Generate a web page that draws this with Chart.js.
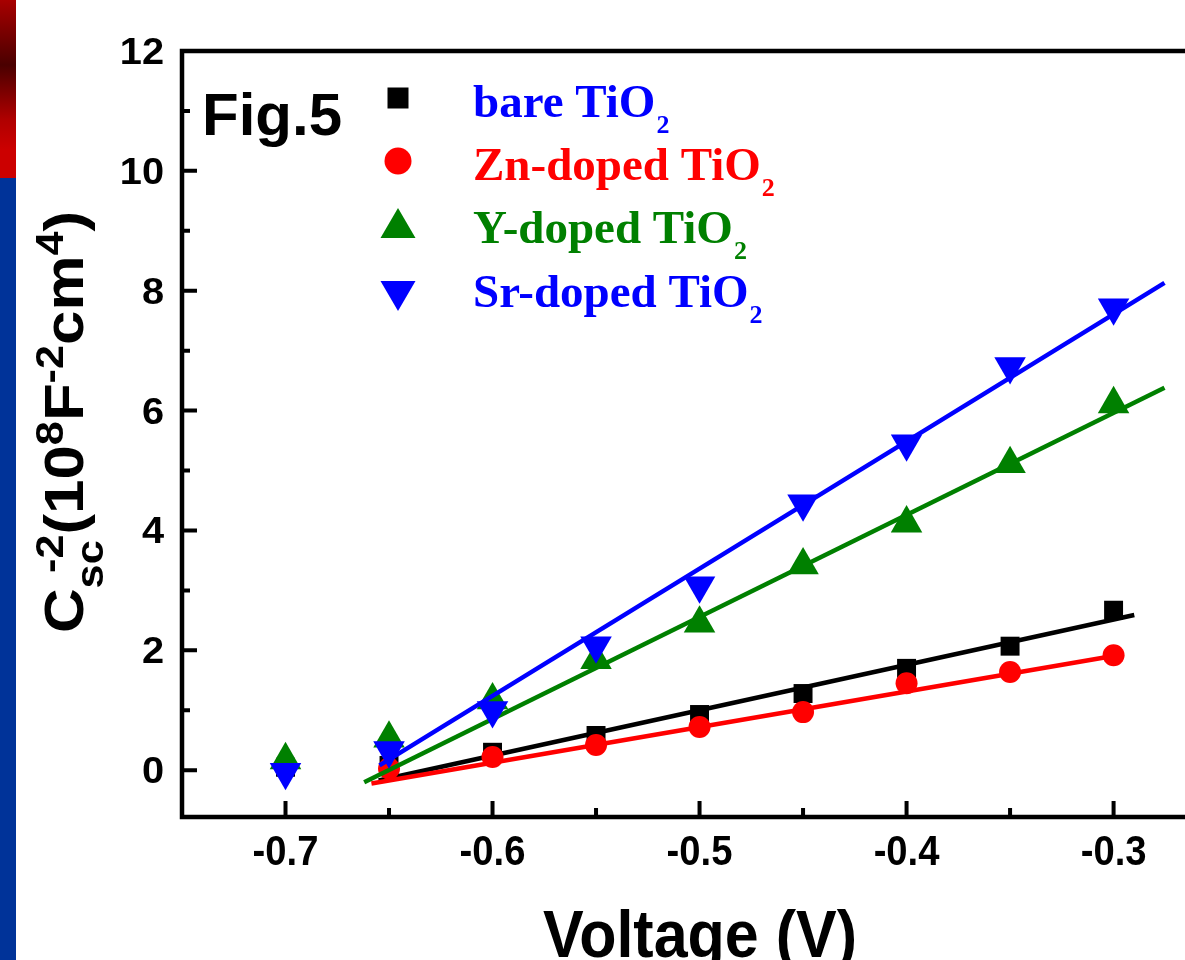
<!DOCTYPE html>
<html>
<head>
<meta charset="utf-8">
<script src="https://cdn.jsdelivr.net/npm/chart.js@4"></script>
<style>
  html, body { margin: 0; padding: 0; background: #fff; overflow: hidden; }
  #wrap { position: relative; width: 1185px; height: 960px; }
  #strip {
    position: absolute; left: 0; top: 0; width: 16px; height: 960px;
    background: linear-gradient(to bottom, #a80000 0px, #4a0000 65px, #b00000 120px, #cc0000 150px, #cc0000 178px, #003399 178px, #003399 960px);
  }
  canvas { position: absolute; left: 0; top: 0; }
</style>
</head>
<body>
<div id="wrap">
  <div id="strip"></div>
  <canvas id="mottSchottky" width="1185" height="960"></canvas>
</div>
<script>
// measured points (V vs 1/C^2, 10^8 F^-2 cm^4)
const voltage = [-0.70, -0.65, -0.60, -0.55, -0.50, -0.45, -0.40, -0.35, -0.30];
const bareTiO2 = [0.05, 0.08, 0.30, 0.58, 0.93, 1.28, 1.70, 2.07, 2.67];
const znTiO2   = [0.05, 0.03, 0.22, 0.42, 0.72, 0.97, 1.45, 1.64, 1.92];
const yTiO2    = [0.17, 0.53, 1.17, 1.84, 2.45, 3.42, 4.12, 5.11, 6.11];
const srTiO2   = [-0.03, 0.33, 1.00, 2.08, 3.08, 4.45, 5.45, 6.74, 7.72];

// linear fit segments (end points)
const fitBareV = [-0.655, -0.290], fitBareC = [-0.17, 2.59];
const fitZnV   = [-0.6585, -0.2995], fitZnC = [-0.22, 1.91];
const fitYV    = [-0.662, -0.2754], fitYC  = [-0.20, 6.38];
const fitSrV   = [-0.6546, -0.2754], fitSrC = [0.08, 8.13];

// axes
const xRange = [-0.75, -0.2655];
const yRange = [-0.78, 12];
const xTicks = [-0.7, -0.6, -0.5, -0.4, -0.3];
const xTickLabels = ['-0.7', '-0.6', '-0.5', '-0.4', '-0.3'];
const xMinor = [-0.65, -0.55, -0.45, -0.35];
const yTicks = [0, 2, 4, 6, 8, 10, 12];
const yMinor = [1, 3, 5, 7, 9, 11];

const seriesNames = ['bare TiO', 'Zn-doped TiO', 'Y-doped TiO', 'Sr-doped TiO'];
const textColors = ['#0000ff', '#ff0000', '#008000', '#0000ff'];
const markColors = ['#000000', '#ff0000', '#008000', '#0000ff'];

const SANS = '"Liberation Sans", Arial, sans-serif';
const SERIF = '"Liberation Serif", "Times New Roman", serif';

function pts(xs, ys) {
  return xs.map((x, i) => ({ x: x, y: ys[i] }));
}

function scatterSet(label, ys, color, style, radius, rot, order) {
  return {
    label: label, data: pts(voltage, ys), showLine: false,
    pointStyle: style, pointRadius: radius, pointRotation: rot,
    pointBackgroundColor: color, pointBorderColor: color, pointBorderWidth: 0,
    order: order
  };
}

function fitSet(xs, ys, color, order) {
  return {
    data: pts(xs, ys), showLine: true, borderColor: color, borderWidth: 4.5,
    pointRadius: 0, fill: false, order: order
  };
}

function txt(ctx, s, x, y, font, align, sx, sy, color) {
  ctx.save();
  ctx.translate(x, y);
  ctx.scale(sx, sy);
  ctx.font = font;
  ctx.fillStyle = color || '#000';
  ctx.textAlign = align;
  ctx.textBaseline = 'alphabetic';
  ctx.fillText(s, 0, 0);
  ctx.restore();
}

function marker(ctx, kind, x, y, color) {
  ctx.save();
  ctx.fillStyle = color;
  ctx.beginPath();
  if (kind === 'square') {
    ctx.rect(x - 10.5, y - 10.5, 21, 21);
  } else if (kind === 'circle') {
    ctx.arc(x, y, 13.5, 0, Math.PI * 2);
  } else if (kind === 'up') {
    ctx.moveTo(x, y - 20); ctx.lineTo(x + 17.5, y + 10); ctx.lineTo(x - 17.5, y + 10);
  } else {
    ctx.moveTo(x, y + 20); ctx.lineTo(x + 17.5, y - 10); ctx.lineTo(x - 17.5, y - 10);
  }
  ctx.closePath();
  ctx.fill();
  ctx.restore();
}

// y-axis title with sub/superscripts, drawn rotated
function yTitle(ctx, cx, cy) {
  const big = 'bold 60px ' + SANS, small = 'bold 42px ' + SANS;
  const up = -22;
  const segs = [
    { t: 'C', f: big, dy: 0 },
    { t: 'sc', f: small, dy: 22, sub: true },
    { t: '-2', f: small, dy: up, after: true },
    { t: '(10', f: big, dy: 0 },
    { t: '8', f: small, dy: up },
    { t: 'F', f: big, dy: 0 },
    { t: '-2', f: small, dy: up },
    { t: 'cm', f: big, dy: 0 },
    { t: '4', f: small, dy: up },
    { t: ')', f: big, dy: 0 }
  ];
  ctx.save();
  ctx.translate(cx, cy);
  ctx.rotate(-Math.PI / 2);
  ctx.scale(1.03, 0.93);
  ctx.fillStyle = '#000';
  ctx.textBaseline = 'alphabetic';
  ctx.textAlign = 'left';
  // layout pass
  let cur = 0, subStart = 0;
  segs.forEach(s => {
    ctx.font = s.f;
    s.w = ctx.measureText(s.t).width;
    if (s.after) {
      s.x = subStart + 15;
      cur = Math.max(cur, s.x + s.w);
    } else {
      s.x = cur;
      if (s.sub) subStart = cur;
      cur += s.w;
    }
  });
  const off = -cur / 2;
  segs.forEach(s => {
    ctx.font = s.f;
    ctx.fillText(s.t, s.x + off, s.dy);
  });
  ctx.restore();
}

const decor = {
  id: 'decor',
  afterDraw(chart) {
    const ctx = chart.ctx, a = chart.chartArea;
    const xs = chart.scales.x, ys = chart.scales.y;
    ctx.save();
    ctx.strokeStyle = '#000';
    ctx.lineWidth = 4.5;
    ctx.lineJoin = 'miter';
    ctx.beginPath();
    ctx.moveTo(a.right + 10, a.top);
    ctx.lineTo(a.left, a.top);
    ctx.lineTo(a.left, a.bottom);
    ctx.lineTo(a.right + 10, a.bottom);
    ctx.stroke();

    // inward ticks
    ctx.lineWidth = 4;
    ctx.beginPath();
    yTicks.forEach(v => { const p = ys.getPixelForValue(v); ctx.moveTo(a.left, p); ctx.lineTo(a.left + 15, p); });
    yMinor.forEach(v => { const p = ys.getPixelForValue(v); ctx.moveTo(a.left, p); ctx.lineTo(a.left + 8, p); });
    xTicks.forEach(v => { const p = xs.getPixelForValue(v); ctx.moveTo(p, a.bottom); ctx.lineTo(p, a.bottom - 16); });
    xMinor.forEach(v => { const p = xs.getPixelForValue(v); ctx.moveTo(p, a.bottom); ctx.lineTo(p, a.bottom - 9); });
    ctx.stroke();
    ctx.restore();

    // tick labels
    const tickFont = 'bold 39px ' + SANS;
    yTicks.forEach(v => txt(ctx, String(v), 164, ys.getPixelForValue(v) + 13, tickFont, 'right', 1.02, 0.96));
    xTicks.forEach((v, i) => txt(ctx, xTickLabels[i], xs.getPixelForValue(v), 865, tickFont, 'center', 0.98, 1.08));

    // axis titles
    txt(ctx, 'Voltage (V)', 700, 957, 'bold 61px ' + SANS, 'center', 1, 1.1);
    yTitle(ctx, 83, 422);

    // figure tag
    txt(ctx, 'Fig.5', 202, 135, 'bold 60px ' + SANS, 'left', 1, 1);

    // legend
    const kinds = ['square', 'circle', 'up', 'down'];
    const markY = [98, 161, 228, 291];
    const baseY = [117, 180, 243, 307];
    seriesNames.forEach((name, i) => {
      marker(ctx, kinds[i], 398, markY[i], markColors[i]);
      ctx.save();
      ctx.font = 'bold 47px ' + SERIF;
      const w = ctx.measureText(name).width;
      ctx.restore();
      txt(ctx, name, 473, baseY[i], 'bold 47px ' + SERIF, 'left', 1, 1, textColors[i]);
      txt(ctx, '2', 473 + w + 1, baseY[i] + 16, 'bold 26px ' + SERIF, 'left', 1, 1, textColors[i]);
    });
  }
};

new Chart(document.getElementById('mottSchottky'), {
  type: 'scatter',
  data: {
    datasets: [
      scatterSet('bare TiO2', bareTiO2, '#000000', 'rect', 13.4, 0, 7),
      fitSet(fitBareV, fitBareC, '#000000', 6),
      scatterSet('Zn-doped TiO2', znTiO2, '#ff0000', 'circle', 11, 0, 5),
      fitSet(fitZnV, fitZnC, '#ff0000', 4),
      scatterSet('Y-doped TiO2', yTiO2, '#008000', 'triangle', 18.2, 0, 3),
      fitSet(fitYV, fitYC, '#008000', 2),
      scatterSet('Sr-doped TiO2', srTiO2, '#0000ff', 'triangle', 18.2, 180, 1),
      fitSet(fitSrV, fitSrC, '#0000ff', 0)
    ]
  },
  options: {
    responsive: false,
    animation: false,
    devicePixelRatio: 1,
    layout: { autoPadding: false, padding: { left: 182, top: 51, right: 0, bottom: 143 } },
    plugins: { legend: { display: false }, tooltip: { enabled: false } },
    scales: {
      x: { type: 'linear', min: xRange[0], max: xRange[1], display: false },
      y: { type: 'linear', min: yRange[0], max: yRange[1], display: false }
    }
  },
  plugins: [decor]
});
</script>
</body>
</html>
